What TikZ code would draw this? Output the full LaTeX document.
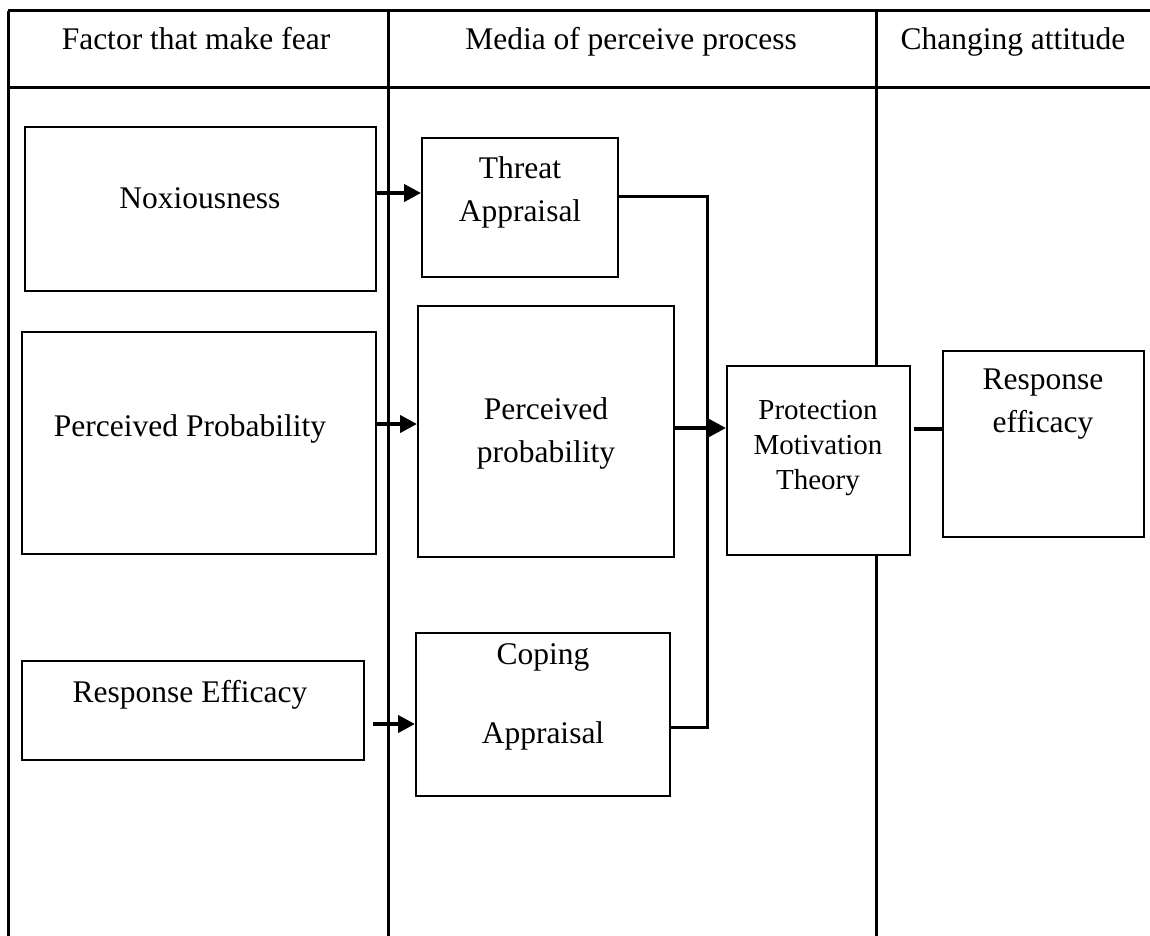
\documentclass[tikz,border=0pt]{standalone}
\usepackage{fontspec}
\setmainfont{Liberation Serif}
\usetikzlibrary{arrows.meta,calc}
\begin{document}
\begin{tikzpicture}[x=1pt,y=-1pt,
  grid/.style={line width=3pt},
  box/.style={draw,fill=white,line width=2pt,rectangle,inner sep=0pt},
  txt/.style={font=\fontsize{31.5}{43}\selectfont,align=center,inner sep=0pt},
  head/.style={font=\fontsize{31.5}{43}\selectfont,inner sep=0pt,anchor=base},
  small/.style={font=\fontsize{29}{35}\selectfont,align=center,inner sep=0pt},
  conn/.style={line width=3pt},
  arr/.style={line width=4pt,-{Triangle[length=17pt,width=17pt]}}]
\useasboundingbox (0,0) rectangle (1150,936);

% table frame
\draw[grid] (8,11) -- (1150,11);
\draw[grid] (8,88) -- (1150,88);
\draw[grid] (8,11) -- (8,936);
\draw[grid] (388,11) -- (388,936);
\draw[grid] (876,11) -- (876,936);

% column headings
\node[head] (h1) at (196,50) {Factor that make fear};
\node[head] (h2) at (631,50) {Media of perceive process};
\node[head] (h3) at (1013,50) {Changing attitude};

% boxes
\node[box,minimum width=351pt,minimum height=164pt] (nox) at (200.5,209) {};
\node[box,minimum width=354pt,minimum height=222pt] (pp) at (199,443) {};
\node[box,minimum width=342pt,minimum height=99pt] (rel) at (193,710.5) {};
\node[box,minimum width=196pt,minimum height=139pt] (thr) at (520,207.5) {};
\node[box,minimum width=256pt,minimum height=251pt] (pm) at (546,431.5) {};
\node[box,minimum width=254pt,minimum height=163pt] (cop) at (543,714.5) {};
\node[box,minimum width=183pt,minimum height=189pt] (pmt) at (818.5,460.5) {};
\node[box,minimum width=201pt,minimum height=186pt] (re) at (1043.5,444) {};

% box texts
\node[txt] at (200,198) {Noxiousness};
\node[txt] at (190,429) {Perceived Probability};
\node[txt] at (190,695) {Response Efficacy};
\node[txt] at (520,192) {Threat\\Appraisal};
\node[txt] at (546,433) {Perceived\\probability};
\node[txt,font=\fontsize{31.5}{79}\selectfont] at (543,697) {Coping\\Appraisal};
\node[small] at (818,448) {Protection\\Motivation\\Theory};
\node[txt] at (1043,404) {Response\\efficacy};

% connectors
\coordinate (jn) at (707,727);
\draw[arr] (nox.east |- 0,193) -- (thr.west |- 0,193);
\draw[arr] (pp.east |- 0,424) -- (pm.west |- 0,424);
\draw[arr] ([xshift=8pt]rel.east |- 0,724) -- (cop.west |- 0,724);
\draw[conn] (thr.east |- 0,196) -| (jn) -- (cop.east |- jn);
\draw[arr] (pm.east |- 0,428) -- (pmt.west |- 0,428);
\draw[line width=4pt] ([xshift=3pt]pmt.east |- 0,429) -- (re.west |- 0,429);
\end{tikzpicture}
\end{document}
